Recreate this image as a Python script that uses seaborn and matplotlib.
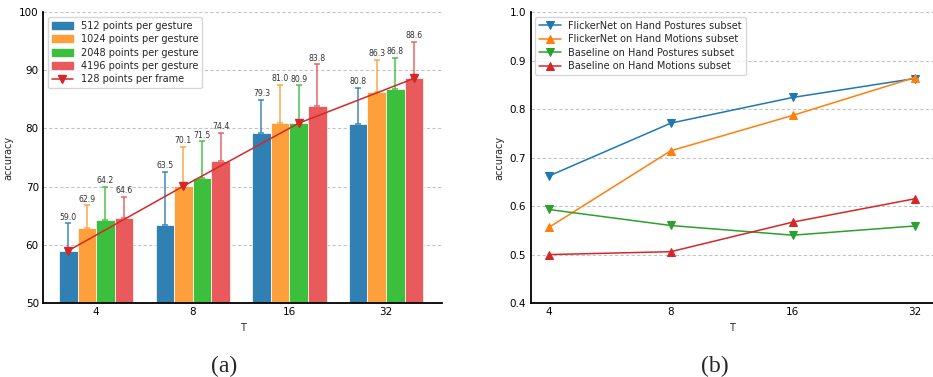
import numpy as np
import pandas as pd
import matplotlib
matplotlib.use("Agg")
import matplotlib.pyplot as plt
import seaborn as sns

# --- data ---
T_labels = ["4", "8", "16", "32"]
settings = ["512 points per gesture", "1024 points per gesture",
            "2048 points per gesture", "4196 points per gesture"]
acc_512 = [59.0, 63.5, 79.3, 80.8]
acc_1024 = [62.9, 70.1, 81.0, 86.3]
acc_2048 = [64.2, 71.5, 80.9, 86.8]
acc_4196 = [64.6, 74.4, 83.8, 88.6]
err_512 = [4.7, 9.0, 5.6, 6.2]
err_1024 = [3.9, 6.7, 6.5, 5.5]
err_2048 = [5.8, 6.3, 6.5, 5.3]
err_4196 = [3.7, 4.8, 7.2, 6.3]
frame_line = [59.0, 70.1, 80.9, 88.6]
frame_label = "128 points per frame"

flicker_postures = [0.662, 0.771, 0.824, 0.863]
flicker_motions = [0.556, 0.714, 0.787, 0.865]
base_postures = [0.593, 0.560, 0.540, 0.559]
base_motions = [0.500, 0.506, 0.567, 0.615]
line_labels = ["FlickerNet on Hand Postures subset", "FlickerNet on Hand Motions subset",
               "Baseline on Hand Postures subset", "Baseline on Hand Motions subset"]

bar_colors = ["#3080b4", "#fd9f3b", "#3cbf3c", "#e85a5b"]
line_colors = ["#1f77b4", "#ff7f0e", "#2ca02c", "#d62728"]

sns.set_style("white")
plt.rcParams['font.family'] = ['DejaVu Sans']

fig = plt.figure(figsize=(9.33, 3.77), dpi=100)
ax1 = fig.add_axes([0.0461, 0.196, 0.4277, 0.772])
ax2 = fig.add_axes([0.5686, 0.196, 0.4314, 0.772])

# --- (a) grouped bars ---
accs = [acc_512, acc_1024, acc_2048, acc_4196]
errs = [err_512, err_1024, err_2048, err_4196]
df = pd.DataFrame({
    "T": np.tile(T_labels, 4),
    "setting": np.repeat(settings, 4),
    "accuracy": np.concatenate(accs),
})
sns.barplot(data=df, x="T", y="accuracy", hue="setting", order=T_labels,
            hue_order=settings, palette=bar_colors, width=0.77, errorbar=None,
            saturation=1, edgecolor="white", linewidth=0.5, ax=ax1, legend=False)

bar_conts = list(ax1.containers)
for k, cont in enumerate(bar_conts):
    xs = [b.get_x() + b.get_width() / 2 for b in cont]
    ax1.errorbar(xs, accs[k], yerr=[np.zeros(4), errs[k]], fmt="none",
                 ecolor=bar_colors[k], elinewidth=1.2, capsize=2.3, capthick=1.2, alpha=0.85)
    for x, v, e in zip(xs, accs[k], errs[k]):
        ax1.text(x, v + e + 0.3, f"{v:.1f}", ha="center", va="bottom",
                 fontsize=5.6, color="#333333")

line_x = [bar_conts[i][i].get_x() + bar_conts[i][i].get_width() / 2 for i in range(4)]
frame_ln, = ax1.plot(line_x, frame_line, color="#d62728", marker="v", markersize=5.5, lw=1.1,
                     label=frame_label, zorder=5)

handles = [plt.Rectangle((0, 0), 1, 1, color=c) for c in bar_colors]
handles.append(frame_ln)
ax1.legend(handles, settings + [frame_label], loc="upper left", fontsize=7,
           handlelength=2.2, labelspacing=0.35)

ax1.set_ylim(50, 100)
ax1.set_xlim(-0.55, 3.58)
ax1.set_yticks([50, 60, 70, 80, 90, 100])
ax1.set_xlabel("T", fontsize=7)
ax1.set_ylabel("accuracy", fontsize=7)

# --- (b) lines ---
xpos = np.arange(len(T_labels))
series = [flicker_postures, flicker_motions, base_postures, base_motions]
markers = ["v", "^", "v", "^"]
for vals, lab, c, m in zip(series, line_labels, line_colors, markers):
    sns.lineplot(x=xpos, y=vals, color=c, marker=m, markersize=5.5, lw=1.1,
                 markeredgecolor=c, label=lab, ax=ax2)
ax2.legend(loc="upper left", fontsize=7, handlelength=2.2, labelspacing=0.35)
ax2.set_xticks(xpos)
ax2.set_xticklabels(T_labels)
ax2.set_xlim(-0.15, 3.15)
ax2.set_ylim(0.4, 1.0)
ax2.set_yticks([0.4, 0.5, 0.6, 0.7, 0.8, 0.9, 1.0])
ax2.set_xlabel("T", fontsize=7)
ax2.set_ylabel("accuracy", fontsize=7)

for ax in (ax1, ax2):
    ax.set_axisbelow(True)
    ax.yaxis.grid(True, linestyle=(0, (3, 2)), color="#c4c4c4", lw=0.8)
    ax.xaxis.grid(False)
    for s in ("top", "right"):
        ax.spines[s].set_visible(False)
    for s in ("left", "bottom"):
        ax.spines[s].set_color("black")
        ax.spines[s].set_linewidth(1.3)
    ax.tick_params(direction="in", labelsize=7.5, length=3, pad=3, colors="black")

fig.text(0.240, 0.027, "(a)", ha="center", va="center", fontsize=17, family="Liberation Serif")
fig.text(0.766, 0.027, "(b)", ha="center", va="center", fontsize=17, family="Liberation Serif")

fig.savefig("out.png", dpi=100)
